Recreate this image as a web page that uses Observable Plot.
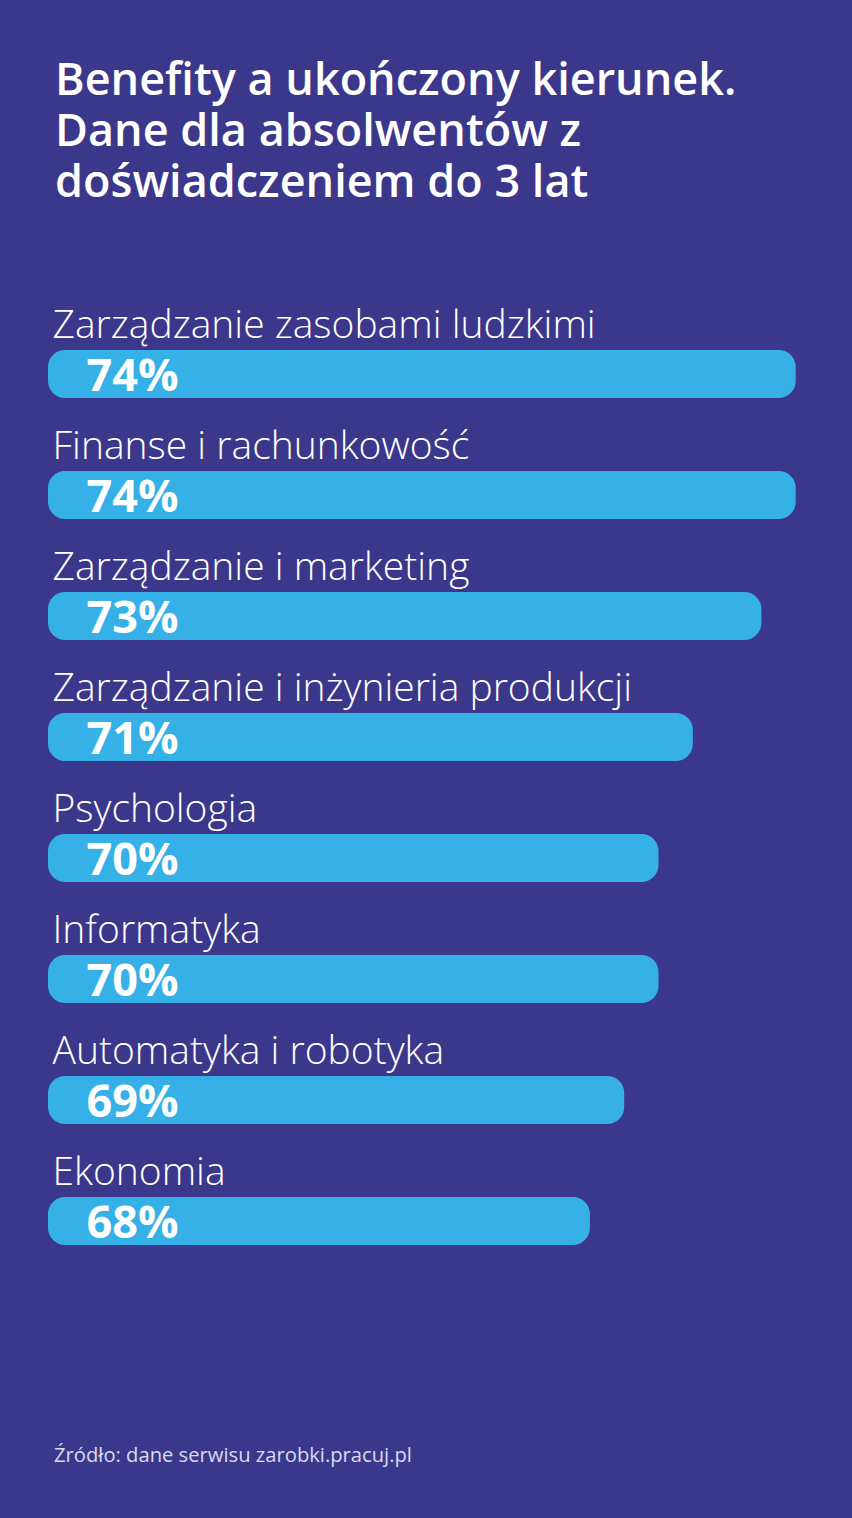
<!DOCTYPE html>
<html>
<head>
<meta charset="utf-8">
<script src="https://cdn.jsdelivr.net/npm/d3@7"></script>
<script src="https://cdn.jsdelivr.net/npm/@observablehq/plot@0.6"></script>
<style>
  html, body { margin: 0; padding: 0; background: #3b378b; }
  body { width: 852px; height: 1518px; overflow: hidden; font-family: "Open Sans", sans-serif; }
  #title { box-sizing: border-box; height: 205px; padding: 52px 0 0 55px; color: #fff; font-weight: 600; font-size: 45px; line-height: 51px; }
  #chart svg { display: block; }
  #source { margin-top: 142px; padding-left: 54px; color: #dadaf0; font-size: 20.2px; line-height: 24px; font-weight: 400; }
</style>
</head>
<body>
<div id="title">Benefity a ukończony kierunek.<br>Dane dla absolwentów z<br>doświadczeniem do 3 lat</div>
<div id="chart"></div>
<div id="source">Źródło: dane serwisu zarobki.pracuj.pl</div>
<script>
const categories = [
  "Zarządzanie zasobami ludzkimi",
  "Finanse i rachunkowość",
  "Zarządzanie i marketing",
  "Zarządzanie i inżynieria produkcji",
  "Psychologia",
  "Informatyka",
  "Automatyka i robotyka",
  "Ekonomia"
];
const values = [74, 74, 73, 71, 70, 70, 69, 68];
const xBase = 52.2;
const xMax = 74.3;

const data = categories.map((c, i) => ({category: c, value: values[i]}));

const chart = Plot.plot({
  width: 852,
  height: 1095,
  marginLeft: 48,
  marginRight: 46,
  marginTop: 85,
  marginBottom: 42,
  style: {background: "transparent", fontFamily: "Open Sans", overflow: "visible"},
  x: {domain: [xBase, xMax], axis: null},
  y: {domain: categories, axis: null, padding: 0},
  marks: [
    Plot.barX(data, {
      x1: () => xBase, x2: "value", y: "category",
      fill: "#36b1e7", rx: 17, insetTop: 60, insetBottom: 13
    }),
    Plot.text(data, {
      y: "category", text: "category", frameAnchor: "left", textAnchor: "start",
      dx: 4, dy: -25.3, fill: "#ffffff", fontSize: 39, fontWeight: 300
    }),
    Plot.text(data, {
      y: "category", text: d => d.value + "%", frameAnchor: "left", textAnchor: "start",
      dx: 38, dy: 25.1, fill: "#ffffff", fontSize: 45, fontWeight: 700
    })
  ]
});
document.getElementById("chart").appendChild(chart);
</script>
</body>
</html>
